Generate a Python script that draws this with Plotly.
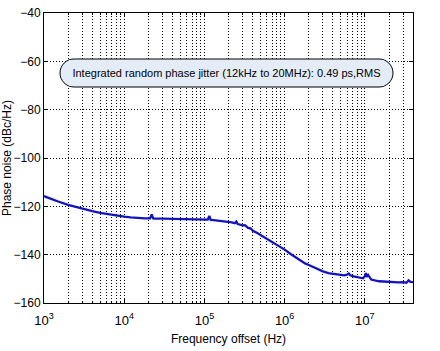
import plotly.graph_objects as go

# Frequency offset (Hz) and phase noise (dBc/Hz)
freq_hz = [
    1.0e3, 1.2e3, 1.5e3, 2.0e3, 2.5e3, 3.0e3, 4.0e3, 5.0e3, 6.0e3, 7.0e3, 8.5e3,
    1.0e4, 1.2e4, 1.5e4, 1.8e4, 2.1e4, 2.2e4, 2.3e4, 2.4e4, 3.0e4, 4.0e4, 5.0e4,
    6.0e4, 7.0e4, 8.0e4, 9.0e4, 1.0e5, 1.1e5, 1.15e5, 1.2e5, 1.3e5, 1.5e5,
    1.8e5, 2.0e5, 2.2e5, 2.4e5, 2.5e5, 2.6e5, 2.8e5, 3.0e5, 3.2e5, 3.5e5,
    3.8e5, 4.0e5, 4.5e5, 5.0e5, 6.0e5, 7.0e5, 8.0e5, 9.0e5, 1.0e6, 1.2e6,
    1.5e6, 1.8e6, 2.0e6, 2.3e6, 2.7e6, 3.0e6, 3.5e6, 4.0e6, 4.5e6, 5.0e6,
    5.5e6, 6.0e6, 6.3e6, 6.6e6, 7.0e6, 7.5e6, 8.0e6, 8.5e6, 9.0e6, 9.5e6,
    1.0e7, 1.03e7, 1.06e7, 1.1e7, 1.2e7, 1.3e7, 1.5e7, 1.7e7, 2.0e7, 2.3e7,
    2.6e7, 3.0e7, 3.3e7, 3.5e7, 3.7e7, 4.0e7,
]
phase_noise = [
    -115.8, -116.9, -118.0, -119.4, -120.3, -121.0, -122.0, -122.7, -123.2, -123.6, -124.0,
    -124.3, -124.6, -124.9, -125.0, -125.0, -123.4, -125.0, -125.1, -125.1, -125.2, -125.2,
    -125.2, -125.3, -125.3, -125.4, -125.5, -125.5, -124.0, -125.6, -125.7, -125.9,
    -126.2, -126.5, -126.6, -127.0, -126.3, -127.3, -127.6, -127.9, -127.8, -128.9,
    -129.2, -130.1, -130.9, -131.8, -133.4, -134.8, -136.0, -137.0, -137.9, -139.8,
    -142.0, -143.6, -144.3, -145.3, -146.4, -146.9, -147.6, -148.0, -148.2, -148.4,
    -148.6, -148.3, -147.8, -148.5, -148.9, -149.1, -149.3, -149.5, -149.6, -149.8,
    -148.9, -147.6, -149.2, -148.4, -150.3, -150.6, -151.0, -151.1, -151.3, -151.2,
    -151.5, -151.4, -151.6, -150.6, -151.3, -151.4,
]

x_tick_vals = [1e3, 1e4, 1e5, 1e6, 1e7]
x_tick_text = ["10<sup>3</sup>", "10<sup>4</sup>", "10<sup>5</sup>", "10<sup>6</sup>", "10<sup>7</sup>"]
y_tick_vals = [-40, -60, -80, -100, -120, -140, -160]
annotation_text = "Integrated random phase jitter (12kHz to 20MHz): 0.49 ps,RMS"

FONT = "Liberation Sans, Arial, sans-serif"
BOX_FILL = "rgb(228,236,247)"
DOT = "1px,2px"

fig = go.Figure()
fig.add_trace(go.Scatter(
    x=freq_hz, y=phase_noise, mode="lines",
    line=dict(color="rgb(20,20,190)", width=2.3),
    hoverinfo="skip", showlegend=False,
))

# rounded label box (paper coords)
W, H = 369.0, 290.0
def px(xp):
    return (xp - 44) / W
def py(yp):
    return (303 - yp) / H
x0, x1, yt, yb, r = 60, 393, 59, 87, 14
k = 0.5523 * r
path = (
    f"M {px(x0+r)},{py(yt)} L {px(x1-r)},{py(yt)} "
    f"C {px(x1-r+k)},{py(yt)} {px(x1)},{py(yt+r-k)} {px(x1)},{py(yt+r)} "
    f"C {px(x1)},{py(yb-r+k)} {px(x1-r+k)},{py(yb)} {px(x1-r)},{py(yb)} "
    f"L {px(x0+r)},{py(yb)} "
    f"C {px(x0+r-k)},{py(yb)} {px(x0)},{py(yb-r+k)} {px(x0)},{py(yb-r)} "
    f"C {px(x0)},{py(yt+r-k)} {px(x0+r-k)},{py(yt)} {px(x0+r)},{py(yt)} Z"
)
fig.add_shape(type="path", path=path, xref="paper", yref="paper",
              fillcolor=BOX_FILL, opacity=1, line=dict(color="black", width=1), layer="above")
fig.add_annotation(x=px((x0 + x1) / 2), y=py((yt + yb) / 2), xref="paper", yref="paper",
                   xanchor="center", yanchor="middle",
                   text=annotation_text, showarrow=False,
                   bgcolor=BOX_FILL, borderpad=0, borderwidth=0,
                   width=x1 - x0 - 2 * r + 10, height=yb - yt - 2,
                   font=dict(family=FONT, size=11, color="black"))

fig.update_layout(
    width=440, height=351,
    margin=dict(l=44, r=27, t=13, b=48, autoexpand=False),
    paper_bgcolor="white", plot_bgcolor="white",
    font=dict(family=FONT, size=12, color="black"),
    xaxis=dict(
        type="log", range=[3, 7.6], automargin=False,
        tickvals=x_tick_vals, ticktext=x_tick_text,
        showgrid=True, gridcolor="black", griddash=DOT, gridwidth=1,
        ticks="inside", ticklen=4, tickcolor="black",
        showline=True, linecolor="black", linewidth=1, mirror="allticks",
        zeroline=False, ticklabelstandoff=5,
        minor=dict(dtick="D1", showgrid=True, gridcolor="black", griddash=DOT,
                   gridwidth=1, ticks="inside", ticklen=2, tickcolor="black"),
        title=dict(text="Frequency offset (Hz)", font=dict(size=12), standoff=8),
        tickfont=dict(size=13),
    ),
    yaxis=dict(
        range=[-160, -40], tickvals=y_tick_vals, automargin=False,
        showgrid=True, gridcolor="black", griddash=DOT, gridwidth=1,
        ticks="inside", ticklen=4, tickcolor="black",
        showline=True, linecolor="black", linewidth=1, mirror="allticks",
        zeroline=False,
        title=dict(text="Phase noise (dBc/Hz)", font=dict(size=12), standoff=6),
        tickfont=dict(size=12),
    ),
)

fig.write_html("out.html")
